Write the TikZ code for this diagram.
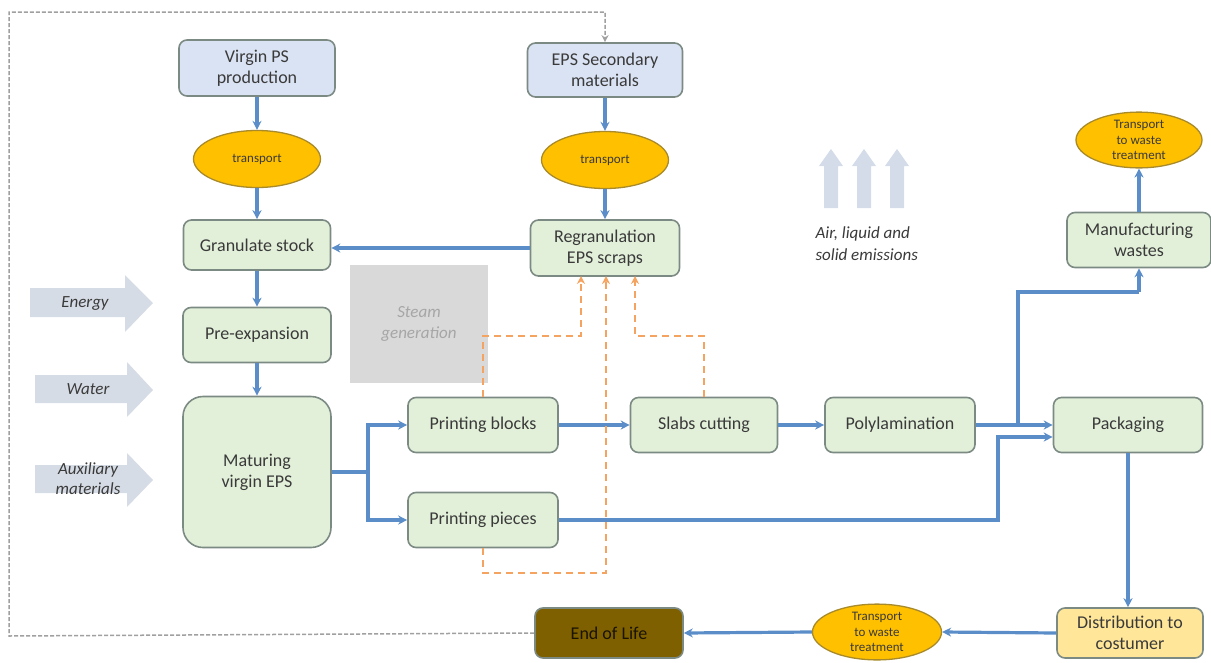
\documentclass[tikz,border=0pt]{standalone}
\usepackage{fontspec}
\setmainfont{Carlito}
\usetikzlibrary{shapes.geometric,arrows.meta}
\definecolor{lblue}{HTML}{DAE3F3}
\definecolor{lgreen}{HTML}{E2F0D9}
\definecolor{bord}{HTML}{7C8A84}
\definecolor{flowc}{HTML}{5B8DC8}
\definecolor{ellf}{HTML}{FFC000}
\definecolor{elld}{HTML}{A88A2A}
\definecolor{txt}{HTML}{3A3A3A}
\definecolor{eolf}{HTML}{7F6000}
\definecolor{distf}{HTML}{FFE699}
\definecolor{steamf}{HTML}{D9D9D9}
\definecolor{steamt}{HTML}{A6A6A6}
\definecolor{inpf}{HTML}{D6DCE5}
\definecolor{emif}{HTML}{D3DCE8}
\definecolor{orng}{HTML}{F4A460}
\definecolor{greyd}{HTML}{A0A0A0}
\tikzset{
  x=1pt,y=-1pt,
  boxbase/.style={draw=bord, line width=1.6pt, rounded corners=8pt, align=center,
    inner sep=0pt, text=txt, font=\fontsize{18}{21}\selectfont},
  gbox/.style={boxbase, fill=lgreen},
  bbox/.style={boxbase, fill=lblue},
  ell/.style={ellipse, draw=elld, line width=1.3pt, fill=ellf, inner sep=0pt,
    align=center, text=txt, minimum width=127pt, minimum height=57pt},
  flow/.style={draw=flowc, line width=3.2pt, -{Stealth[length=9pt,width=9pt]}},
  flowline/.style={draw=flowc, line width=3.2pt},
  odash/.style={draw=orng, line width=1.9pt, dash pattern=on 7pt off 5pt, -{Stealth[length=8pt,width=8pt]}},
  gdash/.style={draw=greyd, line width=1.5pt, dash pattern=on 4pt off 2pt, -{Stealth[length=7pt,width=7pt]}},
  itext/.style={text=txt, font=\fontsize{17}{20}\selectfont\itshape, align=center},
}
\begin{document}
\begin{tikzpicture}
\useasboundingbox (0,0) rectangle (1211,662);
% input block arrows
\fill[inpf] (30,288) -- (125,288) -- (125,275) -- (153,303) -- (125,332) -- (125,317) -- (30,317) -- cycle;
\fill[inpf] (35,375) -- (127,375) -- (127,362) -- (153,390) -- (127,417) -- (127,403) -- (35,403) -- cycle;
\fill[inpf] (35,465) -- (127,465) -- (127,453) -- (153,480) -- (127,507) -- (127,493) -- (35,493) -- cycle;
\node[itext] (en) at (85,303) {Energy};
\node[itext] (wa) at (88,389) {Water};
\node[itext] (aux) at (88,479) {Auxiliary\\materials};
% emissions arrows
\foreach \cx in {831,864,897}{
  \fill[emif] (\cx-7,208) -- (\cx-7,166) -- (\cx-12,166) -- (\cx,149) -- (\cx+12,166) -- (\cx+7,166) -- (\cx+7,208) -- cycle;
}
\node[text=txt, font=\fontsize{17}{22}\selectfont\itshape, align=left, anchor=west] (emi) at (812,244) {Air, liquid and\\solid emissions};
% steam generation
\node[fill=steamf, minimum width=138pt, minimum height=118pt, inner sep=0pt,
  text=steamt, font=\fontsize{17}{21}\selectfont\itshape, align=center] (sg) at (419,324) {Steam\\generation};
% top boxes
\node[bbox, minimum width=156pt, minimum height=56pt] (vps) at (257,68) {Virgin PS\\production};
\node[bbox, minimum width=155pt, minimum height=54pt] (es) at (605,70) {EPS Secondary\\materials};
\node[ell, font=\fontsize{13}{15}\selectfont] (t1) at (257,159) {transport};
\node[ell, font=\fontsize{13}{15}\selectfont] (t2) at (605,160) {transport};
\node[gbox, minimum width=147pt, minimum height=50pt] (gs) at (257,245) {Granulate stock};
\node[gbox, minimum width=149pt, minimum height=56pt] (rg) at (605,248) {Regranulation\\EPS scraps};
\node[gbox, minimum width=148pt, minimum height=55pt] (pe) at (257,335) {Pre-expansion};
\node[gbox, minimum width=148pt, minimum height=151pt, rounded corners=20pt] (mv) at (257,472) {Maturing\\virgin EPS};
\node[gbox, minimum width=150pt, minimum height=55pt] (pb) at (483,425) {Printing blocks};
\node[gbox, minimum width=150pt, minimum height=55pt] (pp) at (483,520) {Printing pieces};
\node[gbox, minimum width=147pt, minimum height=55pt] (sc) at (704,425) {Slabs cutting};
\node[gbox, minimum width=150pt, minimum height=55pt] (pl) at (900,425) {Polylamination};
\node[gbox, minimum width=149pt, minimum height=55pt] (pk) at (1128,425) {Packaging};
\node[gbox, minimum width=144pt, minimum height=55pt] (mw) at (1139,240) {Manufacturing\\wastes};
\node[ell, minimum width=126pt, minimum height=55pt, font=\fontsize{13}{15.5}\selectfont] (tt) at (1139,140) {Transport\\to waste\\treatment};
\node[boxbase, fill=distf, minimum width=146pt, minimum height=50pt] (dc) at (1130,633) {Distribution to\\costumer};
\node[ell, minimum width=129pt, minimum height=55pt, font=\fontsize{13}{15.5}\selectfont] (tb) at (877,632) {Transport\\to waste\\treatment};
\node[boxbase, fill=eolf, minimum width=148pt, minimum height=50pt, text=black!80!eolf] (eol) at (609,633) {End of Life};
% flows
\draw[flow] (vps.south) -- (t1.north);
\draw[flow] (t1.south) -- (gs.north);
\draw[flow] (gs.south) -- (pe.north);
\draw[flow] (pe.south) -- (mv.north);
\draw[flow] (es.south) -- (t2.north);
\draw[flow] (t2.south) -- (rg.north);
\draw[flow] (rg.west) -- (gs.east |- rg.west);
\draw[flowline] (mv.east) -- (368,472);
\draw[flow] (368,472) |- (pb.west);
\draw[flow] (368,472) |- (pp.west);
\draw[flow] (pb.east) -- (sc.west);
\draw[flow] (sc.east) -- (pl.west);
\draw[flow] (pl.east) -- (pk.west);
\coordinate (br) at (1018,425);
\draw[flowline] (br) |- (1139,292);
\draw[flow] (1139,292) -- (mw.south);
\draw[flow] (mw.north) -- (tt.south);
\draw[flow] (pp.east) -| (998,437) -- (pk.west |- 998,437);
\draw[flow] (pk.south) -- (pk.south |- dc.north);
\draw[flow] (dc.west) -- (tb.east);
\draw[flow] (tb.west) -- (eol.east);
% orange dashed returns
\draw[odash] (pb.north) |- (581,336) -- (581,276);
\draw[odash] (pp.south) |- (606,573) -- (606,276);
\draw[odash] (sc.north) |- (635,336) -- (635,276);
% grey dashed loop
\draw[gdash] (eol.west) -- (9,636) -- (9,12) -| (es.north);
\end{tikzpicture}
\end{document}
